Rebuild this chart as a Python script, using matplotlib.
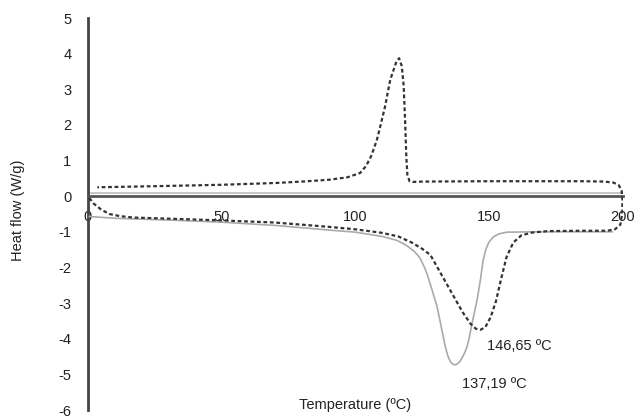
import matplotlib
matplotlib.use("Agg")
import matplotlib.pyplot as plt

plt.rcParams['font.family'] = ['Liberation Sans', 'DejaVu Sans']

# Dashed curve: heating (lower) then loop at 200 and cooling (upper)
dash_x = [0.5, 2, 5, 8, 12, 17, 30, 50, 70, 90, 100, 110, 116, 121, 125, 128, 131,
          134, 137, 140, 143, 145, 146.65, 148.5, 150.5, 152.5, 154.5, 156.5, 159,
          162, 166, 172, 185, 194, 197, 199, 199.7, 199.8, 199.5, 198.5, 196.5, 193,
          185, 150, 125, 121.5, 120.2, 119.4, 119.0, 118.6, 118.0, 117.3, 116.3,
          115.3, 114.5, 113, 111, 109.2, 108, 106, 104, 101.7, 97, 90, 80, 70, 50, 25, 3.5]
dash_y = [-0.05, -0.2, -0.38, -0.5, -0.56, -0.6, -0.63, -0.68, -0.74, -0.86, -0.93, -1.03,
          -1.13, -1.3, -1.48, -1.65, -2.05, -2.45, -2.85, -3.25, -3.58, -3.72, -3.75,
          -3.68, -3.4, -2.95, -2.3, -1.7, -1.3, -1.1, -1.02, -0.98, -0.97, -0.97, -0.93,
          -0.8, -0.5, -0.1, 0.15, 0.3, 0.38, 0.41, 0.42, 0.42, 0.41, 0.40, 0.42, 0.6,
          1.1, 2.0, 3.1, 3.65, 3.87, 3.78, 3.6, 3.27, 2.5, 1.94, 1.58, 1.15, 0.85, 0.65,
          0.53, 0.46, 0.41, 0.37, 0.32, 0.28, 0.25]

# Solid grey curve (heating)
solid_x = [0.5, 10, 30, 50, 70, 90, 100, 110, 115.5, 119, 122, 124, 125.5, 126.7, 128.5,
           130.5, 132, 133.5, 134.5, 135.5, 136.5, 137.2, 138, 139, 140, 141, 141.7, 142.5,
           143.5, 145.4, 146.8, 147.7, 148.8, 149.8, 151.4, 153.5, 156.6, 166, 196]
solid_y = [-0.57, -0.62, -0.67, -0.73, -0.82, -0.95, -1.01, -1.13, -1.24, -1.38, -1.55,
           -1.72, -1.95, -2.17, -2.6, -3.1, -3.65, -4.2, -4.48, -4.65, -4.72, -4.73, -4.71,
           -4.64, -4.52, -4.36, -4.22, -3.98, -3.6, -2.93, -2.3, -1.8, -1.48, -1.3, -1.15,
           -1.06, -1.01, -1.0, -1.0]

# Solid grey baseline near zero
base_x = [0, 200]
base_y = [0.08, 0.08]

x_ticks = [0, 50, 100, 150, 200]
y_ticks = [-6, -5, -4, -3, -2, -1, 0, 1, 2, 3, 4, 5]

peak_labels = ["146,65 ºC", "137,19 ºC"]
peak_pos = [(149.2, -4.2), (139.8, -5.27)]

fig = plt.figure(figsize=(6.38, 4.16), dpi=100)
ax = fig.add_axes([88/638, 1-410/416, (623-88)/638, 392/416])
ax.set_xlim(0, 200)
ax.set_ylim(-6, 5)

ax.plot(base_x, base_y, color='#bbbbbb', lw=1.2, zorder=2)
ax.plot(solid_x, solid_y, color='#aaaaaa', lw=1.2, zorder=3)
ax.plot(dash_x, dash_y, color='#333333', lw=1.6, linestyle=(0, (1.7, 1.2)), zorder=4)

for s in ['top', 'right']:
    ax.spines[s].set_visible(False)
ax.spines['bottom'].set_position(('data', 0))
ax.spines['bottom'].set_color('#555555')
ax.spines['bottom'].set_linewidth(2)
ax.spines['left'].set_color('#444444')
ax.spines['left'].set_linewidth(2)

ax.set_xticks(x_ticks)
ax.set_yticks(y_ticks)
ax.set_xticklabels([str(v) for v in x_ticks])
ax.set_yticklabels([str(v) for v in y_ticks])
ax.tick_params(axis='both', length=0, labelsize=10.5, colors='#222222')
ax.tick_params(axis='x', pad=10)
ax.tick_params(axis='y', pad=12)

for lab, (px, py) in zip(peak_labels, peak_pos):
    ax.text(px, py, lab, fontsize=10.5, color='#222222', va='center', ha='left')

fig.text(355/638, 1-405/416, "Temperature (ºC)", ha='center', va='center',
         fontsize=10.5, color='#222222')
fig.text(18/638, 1-210/416, "Heat flow (W/g)", ha='center', va='center',
         rotation=90, fontsize=10.5, color='#222222')

fig.savefig("out.png", dpi=100)
